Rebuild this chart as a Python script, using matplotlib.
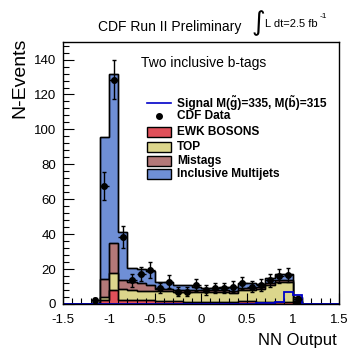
import numpy as np
import matplotlib
matplotlib.use("Agg")
import matplotlib.pyplot as plt
from matplotlib.patches import Rectangle
from matplotlib.lines import Line2D
from matplotlib.ticker import MultipleLocator

plt.rcParams['font.family'] = ['Liberation Sans', 'DejaVu Sans']

# bins of 0.1 from -1.5 to 1.5, only -1.2 .. 1.1 filled
edges = np.round(np.arange(-1.5, 1.5001, 0.1), 2)
first_bin = 3  # -1.2 .. -1.1

# cumulative stack tops (bins -1.2 .. 1.1)
ewk_top = [0.0, 2.0, 8.0, 2.5, 2.3, 2.0, 2.0, 1.5, 1.5, 1.5, 1.0, 1.0, 1.0, 1.0,
           1.0, 1.0, 1.5, 1.5, 1.0, 1.0, 1.0, 1.0, 0.3]
top_top = [0.2, 4.0, 18.0, 8.5, 8.0, 7.5, 7.5, 7.5, 7.3, 7.0, 7.0, 7.0, 7.0, 7.0,
           7.0, 6.5, 8.0, 8.0, 8.8, 10.9, 12.8, 12.8, 1.3]
mistag_top = [0.3, 14.3, 35.0, 14.0, 12.8, 12.0, 11.0, 8.5, 8.3, 8.0, 8.0, 7.8, 7.8, 7.8,
              8.0, 7.5, 9.0, 9.0, 9.8, 12.0, 14.0, 14.0, 1.6]
multijet_top = [0.5, 95.6, 131.8, 41.3, 20.5, 20.0, 19.0, 12.8, 12.5, 11.0, 11.0, 10.0, 9.0, 9.3,
                10.0, 10.0, 12.0, 12.0, 11.5, 14.7, 17.0, 17.0, 4.0]
signal = [0.0, 0.0, 0.0, 0.0, 0.0, 0.0, 0.0, 0.0, 0.0, 0.0, 0.0, 0.0, 0.0, 0.0,
          0.0, 0.0, 0.1, 0.2, 0.3, 0.7, 1.3, 7.0, 5.0]

data_x = [-1.15, -1.05, -0.95, -0.85, -0.75, -0.65, -0.55, -0.45, -0.35, -0.25, -0.15, -0.05,
          0.05, 0.15, 0.25, 0.35, 0.45, 0.55, 0.65, 0.75, 0.85, 0.95, 1.05]
data_y = [2.0, 67.5, 128.5, 38.5, 13.7, 17.0, 19.4, 9.0, 12.8, 7.0, 7.0, 10.9,
          8.0, 9.0, 9.0, 10.0, 12.0, 10.0, 11.0, 13.7, 16.0, 16.6, 3.0]
data_err = [1.4, 8.2, 11.3, 6.2, 3.7, 4.1, 4.4, 3.0, 3.6, 2.6, 2.6, 3.3,
            2.8, 3.0, 3.0, 3.2, 3.5, 3.2, 3.3, 3.7, 4.0, 4.1, 1.7]

legend_labels = [u"Signal M(g\u0303)=335, M(b\u0303)=315", "CDF Data", "EWK BOSONS",
                 "TOP", "Mistags", "Inclusive Multijets"]

c_ewk = '#e0505a'
c_top = '#dcd68c'
c_mis = '#b47878'
c_mul = '#6f8fd6'
c_sig = '#0000c8'


def full(vals):
    out = np.zeros(len(edges) - 1)
    out[first_bin:first_bin + len(vals)] = vals
    return out


fig = plt.figure(figsize=(3.5, 3.51), dpi=100)
ax = fig.add_axes([0.18, 0.134, 0.7886, 0.746])

# stacked histograms: draw cumulative sums from the top layer down
for vals, col in [(multijet_top, c_mul), (mistag_top, c_mis), (top_top, c_top), (ewk_top, c_ewk)]:
    ax.stairs(full(vals), edges, fill=True, facecolor=col, edgecolor='black', lw=1.0)
    ax.stairs(full(vals), edges, fill=False, color='black', lw=1.0)

ax.stairs(full(signal), edges, fill=False, color=c_sig, lw=1.3, baseline=None, zorder=4)

ax.errorbar(data_x, data_y, yerr=data_err, fmt='none', ecolor='black', elinewidth=1.0,
            capsize=1.5, zorder=5)
ax.errorbar(data_x, data_y, xerr=0.05, fmt='o', color='black', ms=4, elinewidth=1.0,
            capsize=0, zorder=6)

ax.set_xlim(-1.5, 1.5)
ax.set_ylim(0, 150)
ax.xaxis.set_major_locator(MultipleLocator(0.5))
ax.xaxis.set_minor_locator(MultipleLocator(0.1))
ax.yaxis.set_major_locator(MultipleLocator(20))
ax.yaxis.set_minor_locator(MultipleLocator(4))
ax.set_xticks([-1.5, -1, -0.5, 0, 0.5, 1, 1.5])
ax.set_xticklabels(['-1.5', '-1', '-0.5', '0', '0.5', '1', '1.5'])
ax.tick_params(which='both', direction='in', top=False, right=False, labelsize=9.5, zorder=7)
ax.tick_params(which='major', length=8, width=0.8)
ax.tick_params(which='minor', length=4, width=0.8)
ax.tick_params(axis='x', pad=7)
ax.tick_params(axis='y', pad=5)
for s in ax.spines.values():
    s.set_linewidth(1.0)
    s.set_zorder(8)

# legend, drawn by hand
rows = [0.768, 0.716, 0.656, 0.599, 0.546, 0.496]
ax.add_line(Line2D([0.304, 0.391], [rows[0], rows[0]], color=c_sig, lw=1.2, transform=ax.transAxes))
ax.add_line(Line2D([0.3475], [rows[1]], marker='o', ms=4, color='black', transform=ax.transAxes))
for r, col in zip(rows[2:], [c_ewk, c_top, c_mis, c_mul]):
    ax.add_patch(Rectangle((0.304, r - 0.019), 0.087, 0.038, facecolor=col, edgecolor='black',
                           lw=1.0, transform=ax.transAxes, zorder=9))
for r, lab in zip(rows, legend_labels):
    ax.text(0.413, r, lab, transform=ax.transAxes, ha='left', va='center',
            fontsize=8.6, fontweight='bold', zorder=9)

ax.text(0.51, 0.92, "Two inclusive b-tags", transform=ax.transAxes, ha='center', va='center',
        fontsize=10)

fig.text(170 / 350, 1 - 27 / 351, "CDF Run II Preliminary", ha='center', va='center', fontsize=10)
fig.text(0.737, 1 - 23 / 351, u"\u222b", ha='center', va='center', fontsize=19,
         family='DejaVu Sans')
fig.text(0.757, 1 - 24 / 351, "L dt=2.5 fb", ha='left', va='center', fontsize=8)
fig.text(0.914, 1 - 17 / 351, "-1", ha='left', va='center', fontsize=6)

fig.text(0.057, 1 - 38 / 351, "N-Events", rotation=90, ha='center', va='top', fontsize=14)
fig.text(337 / 350, 1 - 341 / 351, "NN Output", ha='right', va='center', fontsize=12)

fig.savefig("out.png", dpi=100, facecolor='white')
